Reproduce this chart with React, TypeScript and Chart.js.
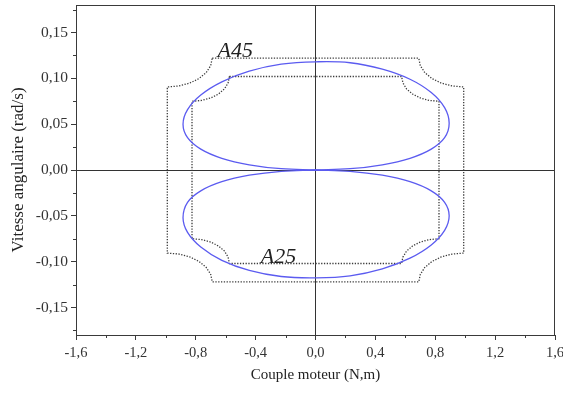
import React, { useEffect, useRef } from "react";
import { Chart, registerables } from "chart.js";

Chart.register(...registerables);

// Axis ticks
const X_TICKS = [-1.6, -1.2, -0.8, -0.4, 0, 0.4, 0.8, 1.2, 1.6];
const X_MINOR = [-1.4, -1.0, -0.6, -0.2, 0.2, 0.6, 1.0, 1.4];
const Y_TICKS = [-0.15, -0.1, -0.05, 0, 0.05, 0.1, 0.15];
const Y_MINOR = [-0.175, -0.125, -0.075, -0.025, 0.025, 0.075, 0.125, 0.175];

// Trajectory: upper loop (positive speed) and lower loop (negative speed)
const UPPER_LOOP: [number, number][] = [
  [0, 0], [-0.229, 0.0014], [-0.4425, 0.0057], [-0.6258, 0.0128], [-0.7664, 0.0228],
  [-0.8548, 0.0353], [-0.885, 0.05], [-0.8548, 0.0659], [-0.7664, 0.0818], [-0.6258, 0.0962],
  [-0.4425, 0.1078], [-0.229, 0.1154], [0, 0.118], [0.2311, 0.117], [0.4465, 0.11],
  [0.6314, 0.099], [0.7733, 0.0845], [0.8626, 0.068], [0.893, 0.051], [0.8626, 0.0353],
  [0.7733, 0.0228], [0.6314, 0.0128], [0.4465, 0.0057], [0.2311, 0.0014], [0, 0],
];
const LOWER_LOOP: [number, number][] = [
  [0, 0], [-0.229, -0.0014], [-0.4425, -0.0057], [-0.6258, -0.0128], [-0.7664, -0.0228],
  [-0.8548, -0.0353], [-0.885, -0.052], [-0.8548, -0.068], [-0.7664, -0.084], [-0.6258, -0.0985],
  [-0.4425, -0.1095], [-0.229, -0.1162], [0, -0.1176], [0.2311, -0.1154], [0.4465, -0.1078],
  [0.6314, -0.0962], [0.7733, -0.0818], [0.8626, -0.0659], [0.893, -0.05], [0.8626, -0.0353],
  [0.7733, -0.0228], [0.6314, -0.0128], [0.4465, -0.0057], [0.2311, -0.0014], [0, 0],
];

// Operating envelope A45 (outer dotted contour)
const ENVELOPE_A45: [number, number][] = [
  [-0.69, 0.122], [0.69, 0.122],
  [0.7, 0.1139], [0.73, 0.1063], [0.778, 0.0998], [0.84, 0.0948], [0.912, 0.0917], [0.99, 0.0906],
  [0.99, -0.0906],
  [0.912, -0.0917], [0.84, -0.0948], [0.778, -0.0998], [0.73, -0.1063], [0.7, -0.1139], [0.69, -0.122],
  [-0.69, -0.122],
  [-0.7, -0.1139], [-0.73, -0.1063], [-0.778, -0.0998], [-0.84, -0.0948], [-0.912, -0.0917], [-0.99, -0.0906],
  [-0.99, 0.0906],
  [-0.912, 0.0917], [-0.84, 0.0948], [-0.778, 0.0998], [-0.73, 0.1063], [-0.7, 0.1139], [-0.69, 0.122],
];

// Operating envelope A25 (inner dotted contour)
const ENVELOPE_A25: [number, number][] = [
  [-0.575, 0.102], [0.575, 0.102],
  [0.584, 0.095], [0.608, 0.0885], [0.648, 0.0829], [0.7, 0.0786], [0.76, 0.0759], [0.825, 0.075],
  [0.825, -0.075],
  [0.76, -0.0759], [0.7, -0.0786], [0.648, -0.0829], [0.608, -0.0885], [0.584, -0.095], [0.575, -0.102],
  [-0.575, -0.102],
  [-0.584, -0.095], [-0.608, -0.0885], [-0.648, -0.0829], [-0.7, -0.0786], [-0.76, -0.0759], [-0.825, -0.075],
  [-0.825, 0.075],
  [-0.76, 0.0759], [-0.7, 0.0786], [-0.648, 0.0829], [-0.608, 0.0885], [-0.584, 0.095], [-0.575, 0.102],
];

const CURVE_LABELS = ["A45", "A25"];
const CURVE_LABEL_ANCHORS: [number, number][] = [[-0.655, 0.1235], [-0.365, -0.1015]];

const toPoints = (pts: [number, number][]) => pts.map(([x, y]) => ({ x, y }));
const fmt = (v: number, d: number) => v.toFixed(d).replace(".", ",");

const SERIF = '"Liberation Serif", "Times New Roman", serif';
const AXIS_COLOR = "#3a3a3a";

const decorations = {
  id: "decorations",
  afterDatasetsDraw(chart: any) {
    const { ctx, chartArea: a, scales } = chart;
    const xs = scales.x;
    const ys = scales.y;
    ctx.save();
    // frame top and right
    ctx.strokeStyle = AXIS_COLOR;
    ctx.lineWidth = 1;
    ctx.beginPath();
    ctx.moveTo(a.left, a.top + 0.5);
    ctx.lineTo(a.right, a.top + 0.5);
    ctx.moveTo(a.right - 0.5, a.top);
    ctx.lineTo(a.right - 0.5, a.bottom);
    ctx.stroke();
    // minor ticks
    ctx.beginPath();
    for (const v of X_MINOR) {
      const px = Math.round(xs.getPixelForValue(v)) + 0.5;
      ctx.moveTo(px, a.bottom);
      ctx.lineTo(px, a.bottom + 3);
    }
    for (const v of Y_MINOR) {
      const py = Math.round(ys.getPixelForValue(v)) + 0.5;
      ctx.moveTo(a.left, py);
      ctx.lineTo(a.left - 3, py);
    }
    ctx.stroke();
    // curve labels
    ctx.fillStyle = "#222";
    ctx.font = `italic 22px ${SERIF}`;
    ctx.textAlign = "left";
    ctx.textBaseline = "alphabetic";
    CURVE_LABELS.forEach((t, i) => {
      const [vx, vy] = CURVE_LABEL_ANCHORS[i];
      ctx.fillText(t, xs.getPixelForValue(vx), ys.getPixelForValue(vy));
    });
    ctx.restore();
  },
};

export default function App() {
  const ref = useRef<HTMLCanvasElement | null>(null);

  useEffect(() => {
    document.body.style.margin = "0";
    document.body.style.background = "#ffffff";
    const canvas = ref.current;
    if (!canvas) return;

    const dotted = {
      showLine: true,
      borderColor: "#3c3c3c",
      borderWidth: 1.3,
      borderDash: [1.3, 1.5],
      pointRadius: 0,
      tension: 0,
      fill: false,
    };
    const loop = {
      showLine: true,
      borderColor: "#5b5bf0",
      borderWidth: 1.3,
      pointRadius: 0,
      tension: 0.4,
      fill: false,
    };

    const chart = new Chart(canvas, {
      type: "scatter",
      data: {
        datasets: [
          { ...loop, label: "upper", data: toPoints(UPPER_LOOP) },
          { ...loop, label: "lower", data: toPoints(LOWER_LOOP) },
          { ...dotted, label: "A45", data: toPoints(ENVELOPE_A45) },
          { ...dotted, label: "A25", data: toPoints(ENVELOPE_A25) },
        ],
      },
      options: {
        animation: false,
        responsive: true,
        maintainAspectRatio: false,
        layout: { padding: { left: 0, right: 8, top: 5, bottom: 0 } },
        plugins: { legend: { display: false }, tooltip: { enabled: false } },
        scales: {
          x: {
            type: "linear",
            min: -1.6,
            max: 1.6,
            afterBuildTicks: (s: any) => {
              s.ticks = X_TICKS.map((value) => ({ value }));
            },
            afterFit: (s: any) => {
              s.height = 59;
              s.paddingLeft = 0;
              s.paddingRight = 0;
            },
            border: { display: true, color: AXIS_COLOR, width: 1 },
            grid: {
              drawOnChartArea: true,
              color: (c: any) => (c.tick && c.tick.value === 0 ? "#333333" : "rgba(0,0,0,0)"),
              tickColor: AXIS_COLOR,
              tickLength: 5,
              lineWidth: 1,
            },
            ticks: {
              autoSkip: false,
              maxRotation: 0,
              padding: 4,
              color: "#333333",
              font: { family: SERIF, size: 14.5 },
              callback: (v: any) => fmt(Number(v), 1),
            },
            title: {
              display: true,
              text: "Couple moteur (N,m)",
              color: "#222222",
              font: { family: SERIF, size: 15 },
              padding: { top: 0, bottom: 10 },
            },
          },
          y: {
            type: "linear",
            min: -0.18,
            max: 0.18,
            afterBuildTicks: (s: any) => {
              s.ticks = Y_TICKS.map((value) => ({ value }));
            },
            afterFit: (s: any) => {
              s.width = 76;
              s.paddingTop = 0;
              s.paddingBottom = 0;
            },
            border: { display: true, color: AXIS_COLOR, width: 1 },
            grid: {
              drawOnChartArea: true,
              color: (c: any) => (c.tick && c.tick.value === 0 ? "#333333" : "rgba(0,0,0,0)"),
              tickColor: AXIS_COLOR,
              tickLength: 5,
              lineWidth: 1,
            },
            ticks: {
              autoSkip: false,
              padding: 3,
              color: "#333333",
              font: { family: SERIF, size: 15.5 },
              callback: (v: any) => fmt(Number(v), 2),
            },
            title: {
              display: true,
              text: "Vitesse angulaire (rad/s)",
              color: "#222222",
              font: { family: SERIF, size: 17 },
              padding: { top: 8, bottom: 0 },
            },
          },
        },
      },
      plugins: [decorations],
    });

    return () => chart.destroy();
  }, []);

  return (
    <div style={{ width: 563, height: 394, position: "relative", overflow: "hidden" }}>
      <canvas ref={ref} />
    </div>
  );
}
